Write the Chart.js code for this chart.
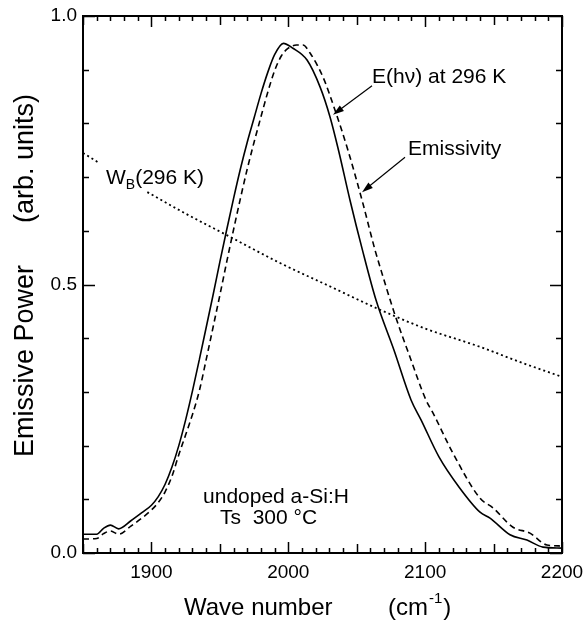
<!DOCTYPE html>
<html>
<head>
<meta charset="utf-8">
<script src="https://cdn.jsdelivr.net/npm/chart.js@4.4.1/dist/chart.umd.min.js"></script>
<style>
  html, body { margin: 0; padding: 0; background: #fff; }
  canvas { display: block; }
</style>
</head>
<body>
<canvas id="grafico" width="585" height="620"></canvas>
<script>
// E(hv) at 296 K (solid)
const emissaoWn = [1850, 1860, 1865, 1870, 1876, 1885, 1893, 1900, 1905, 1910, 1915, 1920, 1925, 1930, 1935, 1940, 1945, 1950, 1955, 1960, 1965, 1970, 1975, 1980, 1985, 1990, 1996.4, 2003.4, 2013.7, 2023.2, 2030.5, 2036.7, 2045.1, 2054.2, 2064.1, 2077.2, 2089.7, 2097, 2110.1, 2124.7, 2140.1, 2147.4, 2162, 2174.4, 2186.1, 2200];
const emissaoVal = [0.035, 0.035, 0.046, 0.052, 0.045, 0.060, 0.075, 0.089, 0.105, 0.128, 0.160, 0.200, 0.248, 0.302, 0.360, 0.420, 0.480, 0.542, 0.602, 0.660, 0.715, 0.765, 0.810, 0.855, 0.895, 0.928, 0.949, 0.940, 0.918, 0.868, 0.812, 0.750, 0.657, 0.564, 0.471, 0.378, 0.285, 0.248, 0.179, 0.123, 0.076, 0.065, 0.034, 0.024, 0.011, 0.009];

// Emissivity (dashed)
const emissividadeWn = [1850, 1860, 1865, 1870, 1876, 1885, 1893, 1900, 1905, 1910, 1915, 1920, 1925, 1930, 1935, 1940, 1945, 1950, 1955, 1960, 1965, 1970, 1975, 1980, 1985, 1990, 1995, 2000, 2006, 2010.7, 2015.9, 2025.4, 2034.1, 2043.6, 2053.9, 2063.4, 2067, 2078, 2088.9, 2100.6, 2105.7, 2120.3, 2140.1, 2149.6, 2164.2, 2176.6, 2189, 2200];
const emissividadeVal = [0.026, 0.027, 0.036, 0.041, 0.035, 0.050, 0.065, 0.080, 0.094, 0.114, 0.143, 0.183, 0.220, 0.258, 0.302, 0.360, 0.420, 0.480, 0.542, 0.602, 0.660, 0.715, 0.765, 0.812, 0.858, 0.898, 0.926, 0.940, 0.946, 0.946, 0.931, 0.886, 0.825, 0.750, 0.657, 0.564, 0.533, 0.443, 0.365, 0.285, 0.261, 0.186, 0.102, 0.084, 0.048, 0.037, 0.015, 0.013];

// W_B(296 K) (dotted), null = gap behind the label
const corpoNegroWn = [1850, 1862, 1880, 1897, 1925, 1955, 1994, 2030, 2067, 2100, 2140, 2170, 2200];
const corpoNegroVal = [0.745, 0.726, null, 0.672, 0.632, 0.592, 0.540, 0.497, 0.453, 0.418, 0.384, 0.355, 0.328];

const xTicks = [1900, 2000, 2100, 2200];
const yTicks = [0.0, 0.5, 1.0];

const FONTE = '"Liberation Sans", Arial, Helvetica, sans-serif';

function pontos(xs, ys) {
  return xs.map((x, i) => ({ x: x, y: ys[i] }));
}

function seta(ctx, x1, y1, x2, y2) {
  const ang = Math.atan2(y2 - y1, x2 - x1);
  const len = 11, larg = 3.5;
  ctx.beginPath();
  ctx.moveTo(x1, y1);
  ctx.lineTo(x2 - Math.cos(ang) * len * 0.8, y2 - Math.sin(ang) * len * 0.8);
  ctx.stroke();
  ctx.beginPath();
  ctx.moveTo(x2, y2);
  ctx.lineTo(x2 - Math.cos(ang) * len - Math.sin(ang) * larg, y2 - Math.sin(ang) * len + Math.cos(ang) * larg);
  ctx.lineTo(x2 - Math.cos(ang) * len + Math.sin(ang) * larg, y2 - Math.sin(ang) * len - Math.cos(ang) * larg);
  ctx.closePath();
  ctx.fill();
}

const moldura = {
  id: 'moldura',
  afterDatasetsDraw(chart) {
    const { ctx, chartArea: a, scales: { x, y } } = chart;
    ctx.save();
    ctx.strokeStyle = '#000';
    ctx.fillStyle = '#000';
    ctx.lineWidth = 2;
    ctx.strokeRect(a.left, a.top, a.right - a.left, a.bottom - a.top);

    // ticks inward
    ctx.lineWidth = 1.5;
    ctx.beginPath();
    for (let v = x.min; v <= x.max; v += 10) {
      const len = v % 100 === 0 ? 11 : (v % 50 === 0 ? 9 : 5);
      const px = Math.round(x.getPixelForValue(v)) + 0.5;
      ctx.moveTo(px, a.bottom); ctx.lineTo(px, a.bottom - len);
      ctx.moveTo(px, a.top); ctx.lineTo(px, a.top + len);
    }
    for (let i = 0; i <= 10; i++) {
      const len = i % 5 === 0 ? 12 : 6;
      const py = Math.round(y.getPixelForValue(i / 10)) + 0.5;
      ctx.moveTo(a.left, py); ctx.lineTo(a.left + len, py);
      ctx.moveTo(a.right, py); ctx.lineTo(a.right - len, py);
    }
    ctx.stroke();

    // tick labels
    ctx.font = '19px ' + FONTE;
    ctx.textAlign = 'center';
    ctx.textBaseline = 'top';
    xTicks.forEach(v => ctx.fillText(String(v), x.getPixelForValue(v), a.bottom + 10));
    ctx.textAlign = 'right';
    ctx.textBaseline = 'middle';
    yTicks.forEach(v => ctx.fillText(v.toFixed(1), a.left - 6, y.getPixelForValue(v)));

    // axis titles
    ctx.textAlign = 'left';
    ctx.textBaseline = 'alphabetic';
    ctx.font = '24px ' + FONTE;
    ctx.fillText('Wave number', 184, 615);
    ctx.fillText('(cm', 388, 615);
    const wcm = ctx.measureText('(cm').width;
    ctx.font = '15px ' + FONTE;
    ctx.fillText('-1', 388 + wcm + 1, 603);
    const wsup = ctx.measureText('-1').width;
    ctx.font = '24px ' + FONTE;
    ctx.fillText(')', 388 + wcm + wsup + 2, 615);

    ctx.save();
    ctx.translate(33, 0);
    ctx.rotate(-Math.PI / 2);
    ctx.font = '27px ' + FONTE;
    ctx.textAlign = 'left';
    ctx.fillText('Emissive Power', -457, 0);
    ctx.fillText('(arb. units)', -223, 0);
    ctx.restore();

    // annotations
    ctx.font = '21px ' + FONTE;
    ctx.textAlign = 'left';
    const px = v => x.getPixelForValue(v), py = v => y.getPixelForValue(v);
    ctx.fillText('E(h\u03bd) at 296 K', px(2061.2), py(0.876));
    ctx.fillText('Emissivity', px(2087.5), py(0.741));
    ctx.fillText('undoped a-Si:H', px(1937.7), py(0.093));
    ctx.fillText('Ts  300 \u00b0C', px(1950.1), py(0.054));
    ctx.fillText('W', px(1866.8), py(0.687));
    const ww = ctx.measureText('W').width;
    ctx.font = '14px ' + FONTE;
    ctx.fillText('B', px(1866.8) + ww, py(0.687) + 5);
    const wb = ctx.measureText('B').width;
    ctx.font = '21px ' + FONTE;
    ctx.fillText('(296 K)', px(1866.8) + ww + wb, py(0.687));

    ctx.lineWidth = 1.2;
    seta(ctx, px(2061.2), py(0.870), px(2032.7), py(0.816));
    seta(ctx, px(2085.3), py(0.737), px(2053.9), py(0.672));
    ctx.restore();
  }
};

new Chart(document.getElementById('grafico'), {
  type: 'line',
  data: {
    datasets: [
      {
        label: 'E(hv) at 296 K',
        data: pontos(emissaoWn, emissaoVal),
        borderColor: '#000',
        borderWidth: 1.6,
        pointRadius: 0,
        cubicInterpolationMode: 'monotone'
      },
      {
        label: 'Emissivity',
        data: pontos(emissividadeWn, emissividadeVal),
        borderColor: '#000',
        borderWidth: 1.6,
        borderDash: [6, 4],
        pointRadius: 0,
        cubicInterpolationMode: 'monotone'
      },
      {
        label: 'W_B(296 K)',
        data: pontos(corpoNegroWn, corpoNegroVal),
        borderColor: '#000',
        borderWidth: 1.8,
        borderDash: [2, 3],
        pointRadius: 0,
        spanGaps: false,
        cubicInterpolationMode: 'monotone'
      }
    ]
  },
  options: {
    responsive: false,
    animation: false,
    layout: { padding: { left: 83, right: 23, top: 16, bottom: 67 } },
    plugins: { legend: { display: false }, tooltip: { enabled: false } },
    scales: {
      x: { type: 'linear', min: 1850, max: 2200, display: false },
      y: { type: 'linear', min: 0, max: 1, display: false }
    }
  },
  plugins: [moldura]
});
</script>
</body>
</html>
